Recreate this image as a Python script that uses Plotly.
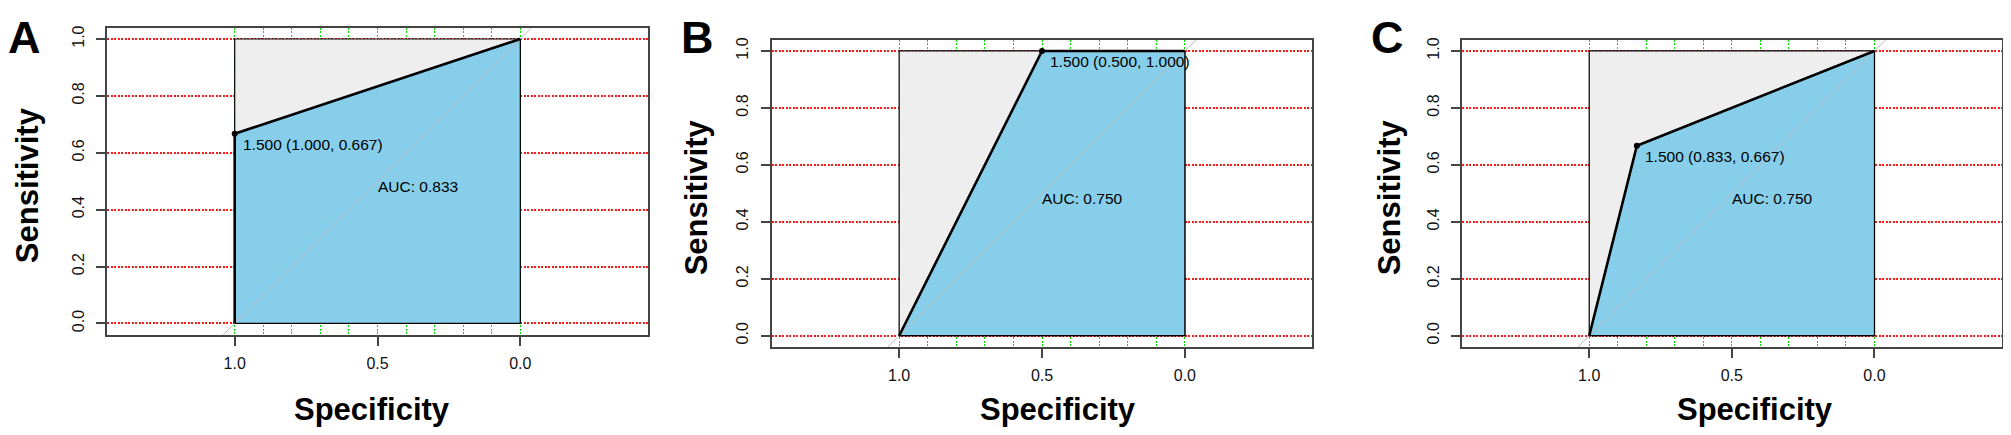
import plotly.graph_objects as go

# ROC curve points (specificity, sensitivity) for the three panels
panels = ["A", "B", "C"]
spec_A = [1.0, 1.0, 0.0]
sens_A = [0.0, 0.667, 1.0]
spec_B = [1.0, 0.5, 0.0]
sens_B = [0.0, 1.0, 1.0]
spec_C = [1.0, 0.833, 0.0]
sens_C = [0.0, 0.667, 1.0]

# best threshold and its (specificity, sensitivity)
thresholds = [1.5, 1.5, 1.5]
thr_spec = [1.000, 0.500, 0.833]
thr_sens = [0.667, 1.000, 0.667]
auc_values = [0.833, 0.750, 0.750]

# max auc square
square_spec = [1, 1, 0, 0, 1]
square_sens = [0, 1, 1, 0, 0]

y_ticks = [0.0, 0.2, 0.4, 0.6, 0.8, 1.0]
y_ticktext = ["0.0", "0.2", "0.4", "0.6", "0.8", "1.0"]
x_ticks = [1.0, 0.5, 0.0]
x_ticktext = ["1.0", "0.5", "0.0"]
x_minor = [0.9, 0.8, 0.7, 0.6, 0.5, 0.4, 0.3, 0.2, 0.1]

curves = [(spec_A, sens_A), (spec_B, sens_B), (spec_C, sens_C)]

# page is 2011x435 but the html body has an 8px margin
OFF = 8
W, H = 2011 - OFF, 435 - OFF


def fx(p):
    return (p - OFF) / W


def fy(p):
    return 1 - (p - OFF) / H


# plot boxes in page pixels: left, right, top, bottom
boxes = [(107.3, 647.7, 25.7, 334.3),
         (771.7, 1312.3, 37.7, 346.7),
         (1462.0, 2001.7, 37.7, 346.7)]
xtitle_x = [372, 1058, 1755]
ytitle_x = [27, 696, 1389]
letter_x = [24, 697, 1387]

xr = [1.446, -0.446]
yr = [-0.04, 1.04]

FONT = "Liberation Sans, Arial, sans-serif"
BOX = "#444444"
DOTS = "2px,1.5px"
fig = go.Figure()
annotations = []

for i, name in enumerate(panels):
    sfx = "" if i == 0 else str(i + 1)
    xa, ya = "x" + sfx, "y" + sfx
    spec, sens = curves[i]
    l, r, t, b = boxes[i]

    # grey max-auc square
    fig.add_trace(go.Scatter(x=square_spec, y=square_sens, xaxis=xa, yaxis=ya,
                             mode="lines", fill="toself", fillcolor="#EEEEEE",
                             line=dict(color="black", width=1.2), hoverinfo="skip",
                             showlegend=False))
    # auc polygon
    px_ = spec + [0, spec[0]]
    py_ = sens + [0, sens[0]]
    fig.add_trace(go.Scatter(x=px_, y=py_, xaxis=xa, yaxis=ya,
                             mode="lines", fill="toself", fillcolor="#87CEEB",
                             line=dict(color="black", width=1.2), hoverinfo="skip",
                             showlegend=False))
    # chance diagonal
    fig.add_trace(go.Scatter(x=[1 - yr[0], 1 - yr[1]], y=yr, xaxis=xa, yaxis=ya,
                             mode="lines", line=dict(color="#BBBBBB", width=1),
                             hoverinfo="skip", showlegend=False))
    # roc curve
    fig.add_trace(go.Scatter(x=spec, y=sens, xaxis=xa, yaxis=ya,
                             mode="lines", line=dict(color="black", width=2.6),
                             showlegend=False))
    # threshold point
    fig.add_trace(go.Scatter(x=[thr_spec[i]], y=[thr_sens[i]], xaxis=xa, yaxis=ya,
                             mode="markers", marker=dict(color="black", size=6),
                             showlegend=False))

    annotations.append(dict(
        x=thr_spec[i], y=thr_sens[i], xref=xa, yref=ya,
        text="%.3f (%.3f, %.3f)" % (thresholds[i], thr_spec[i], thr_sens[i]),
        showarrow=False, xanchor="left", yanchor="top", xshift=6, yshift=0,
        font=dict(family=FONT, size=15.5, color="black")))
    annotations.append(dict(
        x=0.5, y=0.5, xref=xa, yref=ya, text="AUC: %.3f" % auc_values[i],
        showarrow=False, xanchor="left", yanchor="top", xshift=-2, yshift=5,
        font=dict(family=FONT, size=15.5, color="black")))
    annotations.append(dict(
        x=fx(xtitle_x[i]), y=fy(409), xref="paper", yref="paper",
        text="Specificity", showarrow=False, xanchor="center", yanchor="middle",
        font=dict(family=FONT, size=31, color="black", weight="bold")))
    annotations.append(dict(
        x=fx(ytitle_x[i]), y=fy((t + b) / 2 + 4), xref="paper", yref="paper",
        text="Sensitivity", showarrow=False, textangle=-90,
        xanchor="center", yanchor="middle",
        font=dict(family=FONT, size=31, color="black", weight="bold")))
    annotations.append(dict(
        x=fx(letter_x[i]), y=1, xref="paper", yref="paper",
        text=name, showarrow=False, xanchor="center", yanchor="top",
        font=dict(family=FONT, size=45, color="black", weight="bold")))

    fig.update_layout(**{
        "xaxis" + sfx: dict(
            domain=[fx(l), fx(r)], range=xr, anchor=ya,
            tickvals=x_ticks, ticktext=x_ticktext, ticks="outside", ticklen=9,
            tickwidth=1.5, tickcolor=BOX, showline=True, mirror=True,
            linecolor=BOX, linewidth=2, zeroline=False,
            showgrid=True, gridcolor="#00E000", griddash=DOTS, gridwidth=1.4,
            minor=dict(tickmode="array", tickvals=x_minor, showgrid=True,
                       gridcolor="#00E000", griddash=DOTS, gridwidth=1.4, ticks=""),
            tickfont=dict(family=FONT, size=16, color="#111111"),
            ticklabelstandoff=4, fixedrange=True),
        "yaxis" + sfx: dict(
            domain=[fy(b), fy(t)], range=yr, anchor=xa,
            tickvals=y_ticks, ticktext=y_ticktext, ticks="outside", ticklen=9,
            tickwidth=1.5, tickcolor=BOX, tickangle=-90, showline=True, mirror=True,
            linecolor=BOX, linewidth=2, zeroline=False,
            showgrid=True, gridcolor="#FF1a1a", griddash=DOTS, gridwidth=1.5,
            tickfont=dict(family=FONT, size=16, color="#111111"),
            ticklabelstandoff=6, fixedrange=True),
    })

fig.update_layout(width=W, height=H, margin=dict(l=0, r=0, t=0, b=0),
                  paper_bgcolor="white", plot_bgcolor="white",
                  annotations=annotations, showlegend=False)
fig.write_html("out.html")
